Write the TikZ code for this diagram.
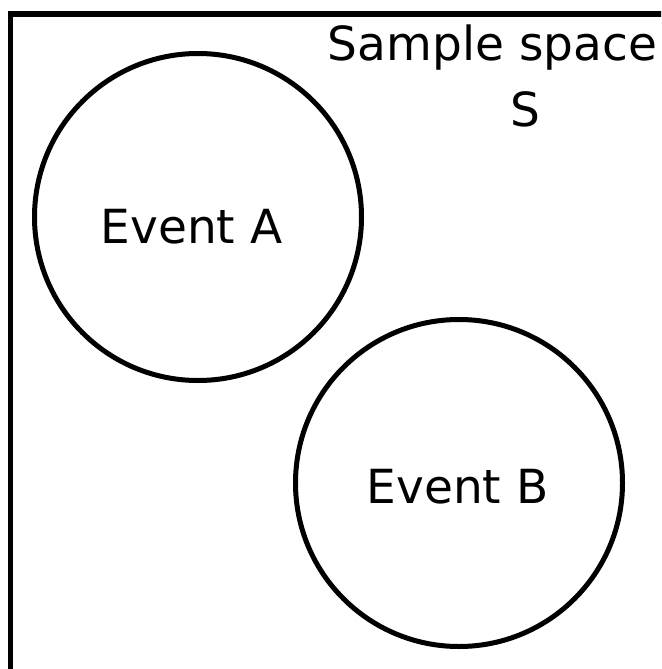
\documentclass[tikz,border=0pt]{standalone}
\usepackage{fontspec}
\setmainfont{DejaVu Sans}
\begin{document}
\begin{tikzpicture}[x=1pt,y=-1pt,
  evt/.style={circle,draw,line width=5pt,minimum size=327pt,inner sep=0pt},
  lbl/.style={font=\fontsize{47}{56}\selectfont,anchor=base,inner sep=0pt}]
\useasboundingbox (0,0) rectangle (661,669);
\clip (0,0) rectangle (661,669);
\draw[line width=5.2pt] (10.5,700) -- (10.5,14) -- (700,14);
\node[evt] (A) at (198,217) {};
\node[evt] (B) at (459,483) {};
\node[lbl] (la) at (191.5,243) {Event A};
\node[lbl] (lb) at (457.5,503) {Event B};
\node[lbl] (ss) at (492.5,60) {Sample space};
\node[lbl] (s) at (525,126) {S};
\end{tikzpicture}
\end{document}
